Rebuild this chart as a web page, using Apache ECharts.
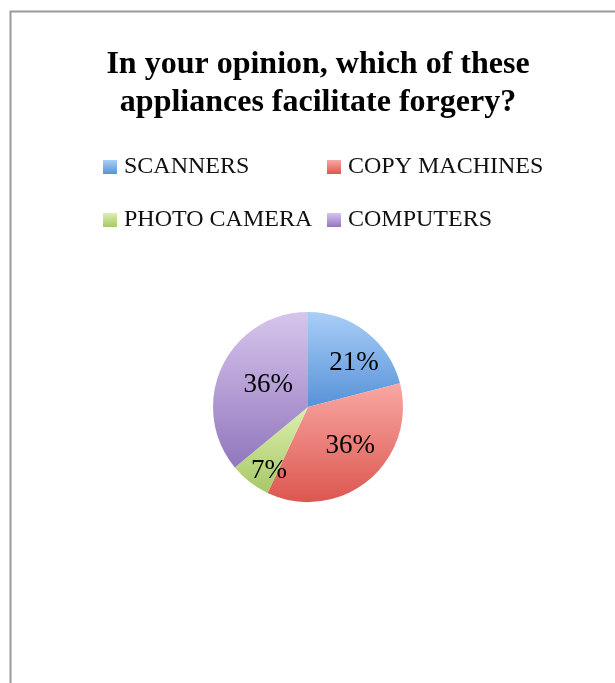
<!DOCTYPE html>
<html>
<head>
<meta charset="utf-8">
<script src="https://cdn.jsdelivr.net/npm/echarts@6/dist/echarts.min.js"></script>
<style>
html,body{margin:0;padding:0;background:#fff;}
#chart{width:615px;height:683px;}
</style>
</head>
<body>
<div id="chart"></div>
<script>
// ---- data ----
var titleText = "In your opinion, which of these\nappliances facilitate forgery?";
var categories = ["SCANNERS", "COPY MACHINES", "PHOTO CAMERA", "COMPUTERS"];
var values = [21, 36, 7, 36];

// ---- styles ----
var gradients = [
  ["#a9cef7", "#5792d8"],
  ["#f9a7a3", "#dc5750"],
  ["#ddefae", "#a7c866"],
  ["#d7c5ec", "#9177bd"]
];
var labelOffsets = [[15, -4], [10, 0], [-8, 24], [6, -1]];

function grad(c) {
  return new echarts.graphic.LinearGradient(0, 0, 0, 1, [
    { offset: 0, color: c[0] },
    { offset: 1, color: c[1] }
  ]);
}

var seriesData = categories.map(function (name, i) {
  return {
    name: name,
    value: values[i],
    itemStyle: { color: grad(gradients[i]) },
    label: { offset: labelOffsets[i] }
  };
});

var legendText = {
  fontFamily: "Liberation Serif, serif",
  fontSize: 24,
  color: "#111",
  lineHeight: 24,
  padding: [0, 0, 0, 2]
};

var chart = echarts.init(document.getElementById("chart"), null, { renderer: "canvas" });
chart.setOption({
  animation: false,
  backgroundColor: "#fff",
  graphic: [{
    type: "rect",
    shape: { x: 10.5, y: 11.5, width: 1000, height: 1000 },
    style: { fill: "none", stroke: "#9a9a9a", lineWidth: 2 }
  }],
  title: {
    text: titleText,
    left: 313,
    top: 41,
    textAlign: "center",
    textStyle: {
      fontFamily: "Liberation Serif, serif",
      fontWeight: "bold",
      fontSize: 32,
      lineHeight: 38,
      color: "#000"
    }
  },
  legend: [{
    orient: "vertical",
    left: 98,
    top: 150,
    itemWidth: 14,
    itemHeight: 14,
    itemGap: 29,
    icon: "rect",
    data: [categories[0], categories[2]],
    textStyle: legendText
  }, {
    orient: "vertical",
    left: 322,
    top: 150,
    itemWidth: 14,
    itemHeight: 14,
    itemGap: 29,
    icon: "rect",
    data: [categories[1], categories[3]],
    textStyle: legendText
  }],
  series: [{
    type: "pie",
    center: [308, 407],
    radius: 95,
    startAngle: 90,
    clockwise: true,
    silent: true,
    label: {
      show: true,
      position: "inside",
      formatter: "{c}%",
      fontFamily: "Liberation Serif, serif",
      fontSize: 27,
      color: "#000"
    },
    labelLine: { show: false },
    itemStyle: { borderWidth: 0 },
    data: seriesData
  }]
});
</script>
</body>
</html>
